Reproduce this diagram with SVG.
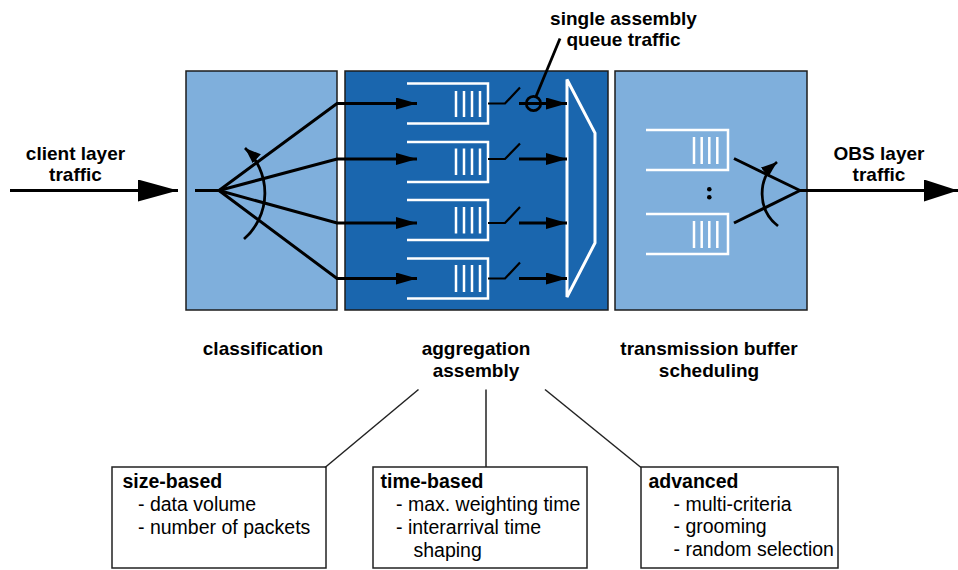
<svg xmlns="http://www.w3.org/2000/svg" width="958" height="570" viewBox="0 0 958 570">
  <style>
    .stage-light { fill: #7FAFDC; stroke: #1c1c1c; stroke-width: 1.5; }
    .stage-dark { fill: #1A66AE; stroke: #1c1c1c; stroke-width: 1.5; }
    .wire { fill: none; stroke: #000; stroke-width: 3; }
    .thin { fill: none; stroke: #000; stroke-width: 2.2; }
    .turn { fill: none; stroke: #000; stroke-width: 2.8; }
    .queue { fill: none; stroke: #fff; stroke-width: 2.5; }
    .stripe { stroke: #fff; stroke-width: 2.5; }
    .mux { fill: none; stroke: #fff; stroke-width: 3; stroke-linejoin: miter; }
    .link { fill: none; stroke: #222; stroke-width: 1.5; }
    .card { fill: #fff; stroke: #222; stroke-width: 1.5; }
    .label { font-family: "Liberation Sans", Arial, Helvetica, sans-serif; font-weight: bold; font-size: 19px; fill: #000; text-anchor: middle; }
    .head { font-family: "Liberation Sans", Arial, Helvetica, sans-serif; font-weight: bold; font-size: 19.5px; fill: #000; }
    .item { font-family: "Liberation Sans", Arial, Helvetica, sans-serif; font-size: 19.5px; fill: #000; }
  </style>
  <defs>
    <marker id="bigHead" markerUnits="userSpaceOnUse" markerWidth="40" markerHeight="22" refX="40" refY="11" orient="auto">
      <path d="M0,0 L40,11 L0,22 z" fill="#000"/>
    </marker>
    <marker id="bigHeadOut" markerUnits="userSpaceOnUse" markerWidth="34" markerHeight="22" refX="34" refY="11" orient="auto">
      <path d="M0,0 L34,11 L0,22 z" fill="#000"/>
    </marker>
    <marker id="smallHead" markerUnits="userSpaceOnUse" markerWidth="21" markerHeight="12" refX="21" refY="6" orient="auto">
      <path d="M0,0 L21,6 L0,12 z" fill="#000"/>
    </marker>
    <marker id="turnHead" markerUnits="userSpaceOnUse" markerWidth="16" markerHeight="12" refX="16" refY="6" orient="auto">
      <path d="M0,0 L16,6 L0,12 z" fill="#000"/>
    </marker>
  </defs>

  <!-- stage: classification -->
  <g id="classification">
    <rect class="stage-light" x="186" y="71" width="151" height="239"/>
    <text class="label" x="263" y="355">classification</text>
  </g>

  <!-- stage: aggregation / assembly -->
  <g id="aggregation">
    <rect class="stage-dark" x="345" y="71" width="263" height="239"/>
    <g id="assembly-queues">
      <path class="queue" d="M407,83.5 H488 V123.5 H407"/>
      <path class="queue" d="M407,142 H488 V182 H407"/>
      <path class="queue" d="M407,200 H488 V240 H407"/>
      <path class="queue" d="M407,258.5 H488 V298.5 H407"/>
      <g class="stripe">
        <line x1="456" y1="91" x2="456" y2="117"/><line x1="464" y1="91" x2="464" y2="117"/>
        <line x1="472" y1="91" x2="472" y2="117"/><line x1="480" y1="91" x2="480" y2="117"/>
        <line x1="456" y1="148.5" x2="456" y2="175"/><line x1="464" y1="148.5" x2="464" y2="175"/>
        <line x1="472" y1="148.5" x2="472" y2="175"/><line x1="480" y1="148.5" x2="480" y2="175"/>
        <line x1="456" y1="207" x2="456" y2="233.5"/><line x1="464" y1="207" x2="464" y2="233.5"/>
        <line x1="472" y1="207" x2="472" y2="233.5"/><line x1="480" y1="207" x2="480" y2="233.5"/>
        <line x1="456" y1="265" x2="456" y2="292"/><line x1="464" y1="265" x2="464" y2="292"/>
        <line x1="472" y1="265" x2="472" y2="292"/><line x1="480" y1="265" x2="480" y2="292"/>
      </g>
    </g>
    <polygon class="mux" points="567,79.5 595,133 595,243 567,297"/>
    <text class="label" x="476" y="355">aggregation</text>
    <text class="label" x="476" y="377">assembly</text>
  </g>

  <!-- stage: transmission buffer scheduling -->
  <g id="scheduling">
    <rect class="stage-light" x="615" y="71" width="192" height="239"/>
    <path class="queue" d="M646,130 H728 V170 H646"/>
    <path class="queue" d="M646,214 H728 V254 H646"/>
    <g class="stripe">
      <line x1="694" y1="137" x2="694" y2="164"/><line x1="701.7" y1="137" x2="701.7" y2="164"/>
      <line x1="709.3" y1="137" x2="709.3" y2="164"/><line x1="717.3" y1="137" x2="717.3" y2="164"/>
      <line x1="694" y1="221" x2="694" y2="248"/><line x1="701.7" y1="221" x2="701.7" y2="248"/>
      <line x1="709.3" y1="221" x2="709.3" y2="248"/><line x1="717.3" y1="221" x2="717.3" y2="248"/>
    </g>
    <circle cx="709.3" cy="189.3" r="2.3" fill="#000"/>
    <circle cx="709.3" cy="197.3" r="2.3" fill="#000"/>
    <text class="label" x="709" y="355">transmission buffer</text>
    <text class="label" x="709" y="377">scheduling</text>
  </g>

  <!-- traffic labels -->
  <g id="client-traffic">
    <text class="label" x="75.5" y="160">client layer</text>
    <text class="label" x="75.5" y="181">traffic</text>
  </g>
  <g id="obs-traffic">
    <text class="label" x="879" y="159.5">OBS layer</text>
    <text class="label" x="879" y="181">traffic</text>
  </g>
  <g id="single-queue-note">
    <text class="label" x="623.5" y="25">single assembly</text>
    <text class="label" x="623.5" y="45.5">queue traffic</text>
  </g>

  <!-- assembly strategy cards -->
  <g id="size-based">
    <rect class="card" x="112" y="467" width="214" height="101"/>
    <text class="head" x="122.5" y="488">size-based</text>
    <text class="item" x="138" y="510.5">- data volume</text>
    <text class="item" x="138" y="534">- number of packets</text>
  </g>
  <g id="time-based">
    <rect class="card" x="373" y="467" width="214" height="101"/>
    <text class="head" x="380.5" y="488">time-based</text>
    <text class="item" x="396" y="510.5">- max. weighting time</text>
    <text class="item" x="396" y="534">- interarrival time</text>
    <text class="item" x="413.5" y="556.5">shaping</text>
  </g>
  <g id="advanced">
    <rect class="card" x="641" y="467" width="197" height="101"/>
    <text class="head" x="648.5" y="488">advanced</text>
    <text class="item" x="673.5" y="510.5">- multi-criteria</text>
    <text class="item" x="673.5" y="533">- grooming</text>
    <text class="item" x="673.5" y="555.5">- random selection</text>
  </g>

  <!-- connectors -->
  <g id="connectors">
    <!-- input and classifier fan-out -->
    <line class="wire" x1="10" y1="190.5" x2="178" y2="190.5" marker-end="url(#bigHead)"/>
    <polyline class="wire" points="195,190.5 219,190.5"/>
    <polyline class="wire" points="219,190.5 337,103.5 417,103.5" marker-end="url(#smallHead)"/>
    <polyline class="wire" points="219,190.5 337,159 417,159" marker-end="url(#smallHead)"/>
    <polyline class="wire" points="219,190.5 337,223 417,223" marker-end="url(#smallHead)"/>
    <polyline class="wire" points="219,190.5 337,278.5 417,278.5" marker-end="url(#smallHead)"/>
    <path class="turn" d="M244,239 A61,61 0 0 0 245,148" marker-end="url(#turnHead)"/>

    <!-- queue switches -->
    <polyline class="thin" points="488,103.5 505,103.5 520,87.5"/>
    <polyline class="thin" points="488,159 505,159 520,143.5"/>
    <polyline class="thin" points="488,223 505,223 520,207"/>
    <polyline class="thin" points="488,278.5 505,278.5 520,262.5"/>

    <!-- switch outputs into the multiplexer -->
    <line class="wire" x1="519" y1="103.5" x2="567" y2="103.5" marker-end="url(#smallHead)"/>
    <line class="wire" x1="519" y1="159" x2="567" y2="159" marker-end="url(#smallHead)"/>
    <line class="wire" x1="519" y1="223" x2="567" y2="223" marker-end="url(#smallHead)"/>
    <line class="wire" x1="519" y1="278.5" x2="567" y2="278.5" marker-end="url(#smallHead)"/>
    <circle cx="533.5" cy="103.5" r="7.2" fill="none" stroke="#000" stroke-width="2.8"/>
    <line x1="560" y1="38.5" x2="536" y2="96.5" stroke="#000" stroke-width="2.8"/>

    <!-- scheduler merge and output -->
    <line class="wire" x1="734" y1="158.5" x2="800" y2="190.5"/>
    <line class="wire" x1="734" y1="223" x2="800" y2="190.5"/>
    <line class="wire" x1="800" y1="190.5" x2="958" y2="190.5" marker-end="url(#bigHeadOut)"/>
    <path class="turn" d="M778,226 A41,41 0 0 1 777,162" marker-end="url(#turnHead)"/>

    <!-- links from the assembly stage to the strategy cards -->
    <line class="link" x1="418.5" y1="389.5" x2="325" y2="467.5"/>
    <line class="link" x1="486" y1="389.5" x2="486" y2="467"/>
    <line class="link" x1="545" y1="389.5" x2="641" y2="467.5"/>
  </g>
</svg>
